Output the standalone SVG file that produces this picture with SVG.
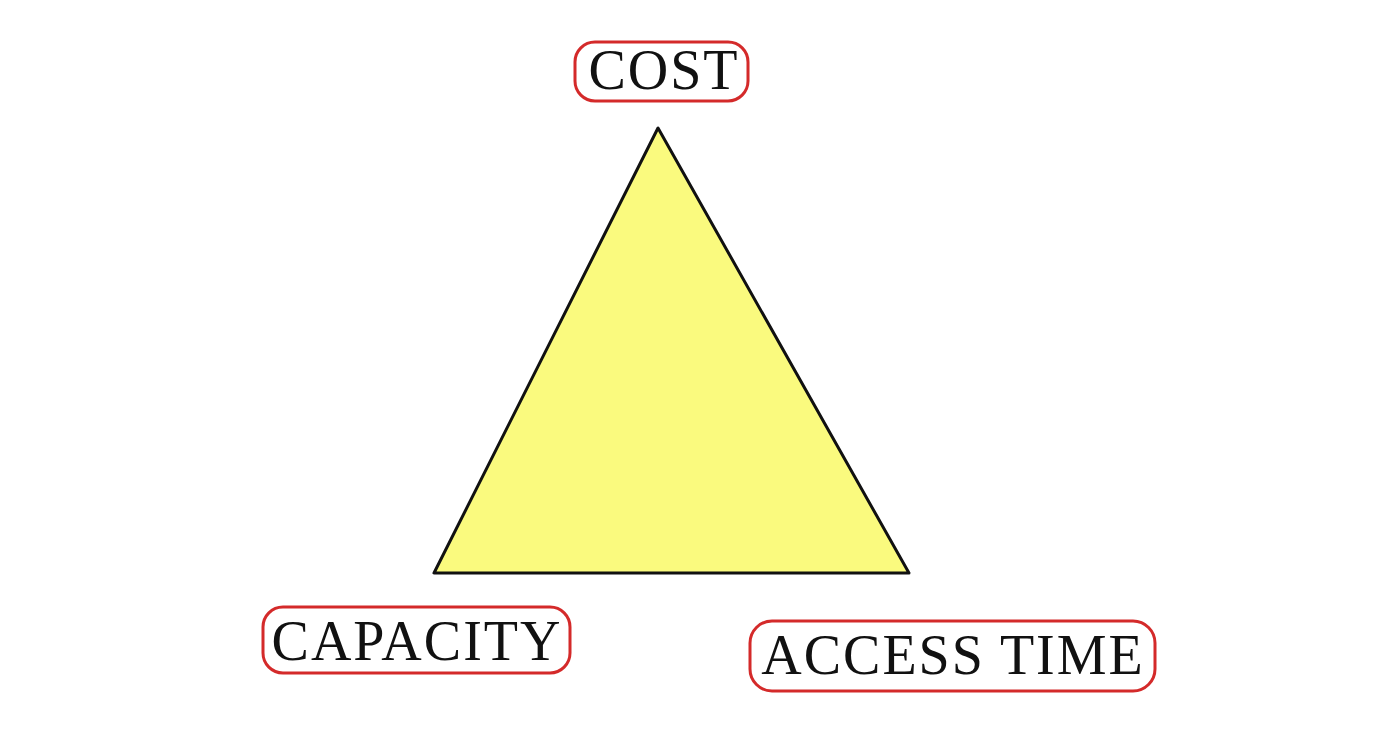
<svg xmlns="http://www.w3.org/2000/svg" width="1387" height="735" viewBox="0 0 1387 735">
<style>
.box{fill:#ffffff;stroke:#d42a2a;stroke-width:3}
.lbl{font-family:"Liberation Serif","Times New Roman",serif;font-size:56px;letter-spacing:2px;fill:#111111;text-anchor:middle}
</style>
<rect width="1387" height="735" fill="#ffffff"/>
<g id="triangle">
<polygon points="658,128 434,573 909,573" fill="#fafa7e" stroke="#111111" stroke-width="3" stroke-linejoin="round"/>
</g>
<g id="connectors"></g>
<g id="cost">
<rect class="box" x="575" y="42" width="173" height="59" rx="20"/>
<text class="lbl" x="664" y="89">COST</text>
</g>
<g id="capacity">
<rect class="box" x="263" y="607" width="307" height="66" rx="20"/>
<text class="lbl" x="417" y="660">CAPACITY</text>
</g>
<g id="access-time">
<rect class="box" x="750" y="621" width="405" height="70" rx="22"/>
<text class="lbl" x="953" y="674">ACCESS TIME</text>
</g>
</svg>
